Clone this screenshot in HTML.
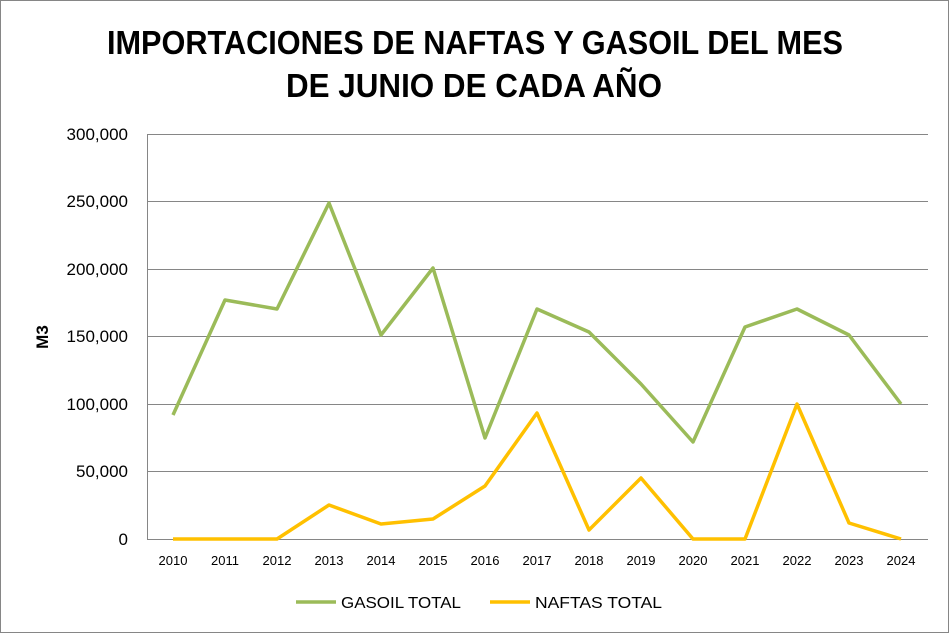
<!DOCTYPE html>
<html><head><meta charset="utf-8"><style>
body{margin:0;background:#fff}
svg{display:block}
text{font-family:"Liberation Sans",Arial,sans-serif}
</style></head><body>
<svg width="950" height="634" viewBox="0 0 950 634" xmlns="http://www.w3.org/2000/svg">
<rect x="0.5" y="0.5" width="948" height="632" fill="#fff" stroke="#868686"/>
<text x="107" y="54" font-size="33" font-weight="bold" textLength="736" lengthAdjust="spacingAndGlyphs">IMPORTACIONES DE NAFTAS Y GASOIL DEL MES</text>
<text x="286" y="97" font-size="33" font-weight="bold" textLength="376" lengthAdjust="spacingAndGlyphs">DE JUNIO DE CADA AÑO</text>
<g stroke="#868686" stroke-width="1">
<line x1="147" y1="134.5" x2="928" y2="134.5"/>
<line x1="147" y1="201.5" x2="928" y2="201.5"/>
<line x1="147" y1="269.5" x2="928" y2="269.5"/>
<line x1="147" y1="336.5" x2="928" y2="336.5"/>
<line x1="147" y1="404.5" x2="928" y2="404.5"/>
<line x1="147" y1="471.5" x2="928" y2="471.5"/>
<line x1="147" y1="539.5" x2="928" y2="539.5"/>
<line x1="147.5" y1="134" x2="147.5" y2="539"/>
</g>
<g font-size="17" text-anchor="end">
<text x="128" y="140">300,000</text>
<text x="128" y="207">250,000</text>
<text x="128" y="275">200,000</text>
<text x="128" y="342">150,000</text>
<text x="128" y="410">100,000</text>
<text x="128" y="477">50,000</text>
<text x="128" y="545">0</text>
</g>
<text transform="translate(48,337) rotate(-90)" text-anchor="middle" font-size="17" font-weight="bold">M3</text>
<g font-size="13" text-anchor="middle">
<text x="173" y="565">2010</text><text x="225" y="565">2011</text><text x="277" y="565">2012</text><text x="329" y="565">2013</text><text x="381" y="565">2014</text><text x="433" y="565">2015</text><text x="485" y="565">2016</text><text x="537" y="565">2017</text><text x="589" y="565">2018</text><text x="641" y="565">2019</text><text x="693" y="565">2020</text><text x="745" y="565">2021</text><text x="797" y="565">2022</text><text x="849" y="565">2023</text><text x="901" y="565">2024</text>
</g>
<polyline fill="none" stroke="#9BBB59" stroke-width="3.5" stroke-linejoin="round" points="173,415 225,300 277,309 329,203 381,335 433,268 485,438 537,309 589,332 641,384 693,442 745,327 797,309 849,335 901,404"/>
<polyline fill="none" stroke="#FFC000" stroke-width="3.5" stroke-linejoin="round" points="173,539 225,539 277,539 329,505 381,524 433,519 485,486 537,413 589,530 641,478 693,539 745,539 797,404 849,523 901,539"/>
<line x1="296" y1="602" x2="336" y2="602" stroke="#9BBB59" stroke-width="3.5"/>
<text x="341" y="608" font-size="16" textLength="120" lengthAdjust="spacingAndGlyphs">GASOIL TOTAL</text>
<line x1="490" y1="602" x2="530" y2="602" stroke="#FFC000" stroke-width="3.5"/>
<text x="535" y="608" font-size="16" textLength="127" lengthAdjust="spacingAndGlyphs">NAFTAS TOTAL</text>
</svg>
</body></html>
